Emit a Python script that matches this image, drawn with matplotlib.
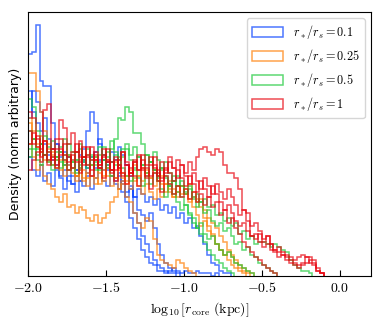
import numpy as np
import matplotlib
matplotlib.use('Agg')
import matplotlib.pyplot as plt

plt.rcParams['mathtext.fontset'] = 'cm'

# histogram heights (arbitrary density units), bins of 0.025 starting at log10 r = -2
bin_start = -2.0
bin_width = 0.025

blue_1 = [84, 85, 95, 74, 72, 72, 58, 50, 47, 42, 45, 38, 40, 36, 44, 41, 38, 47, 52, 44,
          40, 43, 37, 39, 35, 30, 33, 24, 20, 15, 12, 9, 6, 4, 3, 2, 1, 1]
blue_2 = [60, 70, 66, 62, 50, 46, 44, 42, 38, 40, 36, 35, 38, 40, 48, 55, 62, 58, 50, 46,
          42, 40, 36, 38, 32, 28, 22, 18, 14, 10, 7, 5, 4, 2, 2, 1, 2, 3, 2, 1,
          2, 1, 1, 2, 1, 1, 1, 0, 1]
blue_3 = [45, 40, 38, 42, 36, 39, 34, 40, 37, 33, 38, 35, 32, 36, 34, 38, 33, 37, 41, 36,
          34, 38, 35, 33, 36, 32, 34, 30, 33, 31, 28, 30, 27, 29, 25, 27, 24, 26, 22, 24,
          20, 22, 18, 19, 15, 12, 8, 5, 4, 2, 1, 1]
blue_4 = [70, 62, 58, 55, 60, 52, 48, 50, 45, 47, 42, 44, 40, 46, 43, 39, 45, 41, 44, 40,
          43, 47, 44, 49, 46, 42, 38, 30, 25, 23, 21, 24, 18, 12, 8, 5, 3, 2, 1]

orange_1 = [77, 77, 70, 62, 55, 50, 46, 44, 47, 42, 40, 44, 38, 41, 36, 39, 42, 37, 35, 40,
            38, 34, 37, 33, 35, 30, 28, 24, 20, 18, 22, 21, 14, 8, 6, 5, 4, 3, 6, 5,
            3, 2, 1]
orange_2 = [50, 45, 40, 42, 38, 35, 33, 30, 28, 31, 26, 27, 24, 26, 25, 22, 21, 23, 20, 22,
            24, 28, 30, 33, 36, 38, 40, 36, 38, 41, 39, 37, 40, 36, 38, 35, 33, 30, 32, 34,
            31, 35, 30, 28, 29, 25, 22, 20, 18, 15, 13, 10, 8, 6, 4, 3, 2, 1]
orange_3 = [60, 55, 50, 47, 44, 48, 42, 45, 40, 43, 46, 41, 38, 44, 40, 37, 42, 45, 39, 36,
            41, 38, 43, 40, 37, 35, 39, 42, 38, 36, 40, 37, 34, 38, 35, 32, 36, 33, 30, 34,
            31, 28, 32, 29, 26, 22, 19, 16, 12, 10, 8, 6, 4, 3, 2, 1]
orange_4 = [58, 52, 49, 53, 46, 43, 47, 41, 44, 38, 42, 39, 36, 40, 37, 34, 38, 35, 41, 38,
            44, 40, 37, 42, 39, 36, 33, 37, 34, 31, 35, 32, 29, 33, 30, 35, 32, 30, 34, 31,
            33, 29, 26, 23, 19, 21, 17, 15, 12, 10, 8, 9, 7, 5, 3, 2, 1]

green_1 = [67, 64, 55, 50, 46, 44, 42, 45, 41, 44, 40, 43, 39, 42, 45, 41, 44, 40, 43, 46,
           42, 48, 52, 60, 59, 64, 62, 54, 54, 50, 46, 43, 40, 38, 41, 37, 34, 36, 32, 30,
           27, 24, 22, 18, 16, 13, 10, 8, 6, 5, 3, 2, 1]
green_2 = [45, 48, 44, 42, 46, 43, 40, 44, 47, 42, 45, 41, 44, 48, 43, 46, 42, 45, 49, 44,
           47, 43, 46, 42, 45, 48, 44, 41, 45, 42, 39, 43, 40, 37, 41, 38, 35, 38, 34, 36,
           32, 34, 30, 31, 28, 29, 26, 27, 23, 24, 21, 22, 19, 20, 16, 17, 14, 15, 12, 13,
           13, 12, 11, 12, 11, 10, 9, 6, 4, 3, 2, 2, 1]
green_3 = [55, 52, 48, 50, 46, 49, 45, 47, 43, 46, 50, 47, 44, 41, 45, 42, 46, 43, 40, 44,
           41, 38, 42, 45, 41, 38, 36, 40, 37, 34, 38, 35, 39, 36, 33, 30, 34, 31, 28, 25,
           27, 23, 20, 18, 20, 16, 14, 15, 12, 10, 8, 9, 7, 5, 4, 3, 2, 1]
green_4 = [48, 52, 46, 50, 53, 47, 51, 45, 49, 52, 46, 43, 47, 50, 44, 48, 45, 42, 46, 49,
           45, 51, 47, 44, 48, 50, 46, 49, 45, 42, 46, 43, 47, 44, 40, 43, 39, 36, 38, 34,
           31, 33, 29, 26, 28, 24, 25, 21, 19, 20, 17, 18, 15, 12, 13, 10, 11, 8, 7, 5,
           4, 3, 2, 1]

red_1 = [62, 60, 52, 48, 63, 65, 48, 52, 59, 56, 50, 54, 47, 51, 45, 49, 44, 47, 42, 46,
         43, 40, 44, 41, 38, 42, 39, 43, 40, 44, 41, 38, 42, 39, 36, 40, 43, 41, 44, 42,
         39, 43, 40, 45, 48, 49, 47, 46, 48, 47, 42, 39, 39, 37, 33, 25, 24, 15, 14, 16,
         13, 15, 12, 10, 9, 8, 7, 6, 5, 4, 5, 7, 7, 6, 2, 1]
red_2 = [50, 54, 49, 45, 51, 47, 44, 48, 52, 46, 43, 47, 50, 45, 42, 46, 49, 44, 41, 45,
         48, 43, 40, 44, 47, 42, 39, 43, 46, 41, 38, 42, 45, 40, 37, 41, 39, 36, 40, 37,
         34, 38, 35, 32, 36, 33, 30, 34, 31, 28, 25, 27, 24, 21, 19, 20, 17, 15, 16, 13,
         11, 12, 10, 9, 7, 8, 6, 5, 4, 3, 4, 5, 6, 5, 3, 1]
red_3 = [40, 44, 47, 43, 46, 42, 45, 41, 48, 44, 40, 46, 43, 39, 45, 42, 38, 44, 41, 37,
         43, 40, 36, 42, 39, 35, 41, 38, 34, 40, 37, 33, 39, 36, 32, 38, 35, 31, 34, 30,
         33, 29, 32, 28, 31, 27, 30, 26, 28, 23, 25, 20, 22, 18, 16, 13, 11, 9, 7, 6,
         4, 3, 2, 1]
red_4 = [55, 50, 53, 47, 51, 44, 48, 42, 46, 50, 45, 41, 47, 43, 49, 45, 40, 46, 42, 48,
         44, 39, 45, 41, 47, 43, 38, 44, 40, 46, 42, 45, 41, 38, 43, 39, 45, 41, 37, 42,
         38, 35, 39, 36, 33, 37, 34, 31, 35, 32, 29, 33, 30, 27, 23, 25, 21, 19, 20, 17,
         14, 15, 12, 10, 11, 9, 8, 7, 6, 7, 8, 7, 5, 4, 2, 1]

groups = [
    (r'$r_*/r_s = 0.1$', '#023eff', [blue_1, blue_2, blue_3, blue_4]),
    (r'$r_*/r_s = 0.25$', '#ff7c00', [orange_1, orange_2, orange_3, orange_4]),
    (r'$r_*/r_s = 0.5$', '#1ac938', [green_1, green_2, green_3, green_4]),
    (r'$r_*/r_s = 1$', '#e8000b', [red_1, red_2, red_3, red_4]),
]

fig = plt.figure(figsize=(3.82, 3.19), dpi=100)
ax = fig.add_axes([0.073, 0.135, 0.898, 0.827])

for label, color, curves in groups:
    for k, vals in enumerate(curves):
        edges = bin_start + bin_width * np.arange(len(vals) + 1)
        ax.hist(edges[:-1] + bin_width / 2, bins=edges, weights=vals, histtype='step',
                color=color, alpha=0.7, linewidth=1.1,
                label=label if k == 0 else None)

ax.set_xlim(-2.0, 0.2)
ax.set_ylim(0, 100)
ax.set_yticks([])
ticks = [-2.0, -1.5, -1.0, -0.5, 0.0]
ax.set_xticks(ticks)
ax.set_xticklabels([r'$%.1f$' % t for t in ticks], fontsize=10)
ax.tick_params(axis='x', direction='in', length=4)
ax.set_xlabel(r'$\log_{10}[r_{\rm core}\ {\rm (kpc)}]$', fontsize=10, labelpad=4)
ax.set_ylabel('Density (norm arbitrary)', fontsize=9)
ax.legend(loc='upper right', fontsize=8.8, handlelength=2.6, handleheight=0.9,
          borderaxespad=0.5, fancybox=True, framealpha=0.8)

fig.savefig('out.png', dpi=100)
